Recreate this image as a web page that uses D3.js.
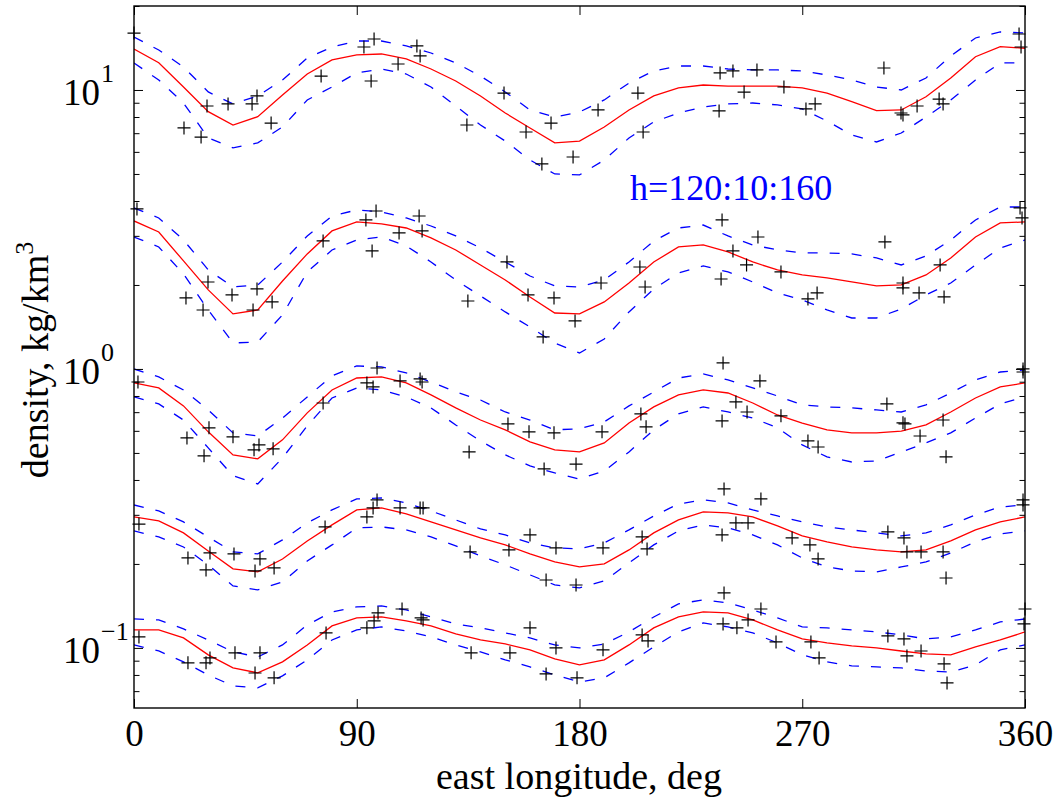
<!DOCTYPE html>
<html><head><meta charset="utf-8">
<script src="https://cdn.jsdelivr.net/npm/d3@7"></script>
<style>
body{margin:0;background:#fff}
svg{display:block}
text{font-family:"Liberation Serif","Times New Roman",serif}
</style>
</head><body>
<svg id="c" width="1063" height="797"></svg>
<script>
// east longitude grid of the fitted curves (deg)
const lon = [0,10,20,30,40,50,60,70,80,90,100,110,120,130,140,150,160,170,180,190,200,210,220,230,240,250,260,270,280,290,300,310,320,330,340,350,360];

// h = 120 km
const mid120 = [14.03,12.52,10.25,8.36,7.49,8.02,9.60,11.41,12.81,13.35,13.46,12.92,11.89,10.77,9.52,8.27,7.31,6.46,6.56,7.37,8.48,9.52,10.17,10.42,10.33,10.33,10.33,10.17,9.75,9.08,8.43,8.48,9.46,11.04,13.16,14.30,14.11];
const up120  = [15.49,13.91,12.09,9.84,8.91,9.52,10.86,13.02,14.26,14.98,14.98,14.38,13.57,12.50,11.22,9.84,8.48,8.00,8.34,9.21,10.59,11.70,12.19,12.19,11.89,11.80,11.80,11.70,11.32,10.86,10.25,10.00,11.04,13.24,15.36,16.14,16.01];
const low120 = [12.50,10.86,8.98,6.73,6.20,6.46,7.37,9.21,10.25,11.51,11.89,11.41,10.25,8.76,7.49,6.56,5.61,5.00,4.96,5.61,6.73,7.68,8.27,8.69,8.91,8.98,8.84,8.55,7.74,6.90,6.51,7.01,8.00,9.21,10.86,12.50,12.50];
const obs120 = [[0,16.0],[20.2,7.31],[27.1,6.78],[29.5,8.76],[38.0,8.91],[47.7,8.91],[49.7,9.52],[55.4,7.61],[75.6,11.22],[92.9,14.26],[97.0,15.23],[95.8,10.77],[106.7,12.39],[114.3,14.38],[115.6,13.24],[149.5,9.75],[134.5,7.49],[158.4,7.07],[168.5,7.61],[164.8,5.43],[177.4,5.75],[187.5,8.48],[203.6,9.75],[205.7,7.07],[236.8,11.51],[242.0,11.70],[251.7,11.80],[246.5,9.83],[262.6,10.25],[236.4,8.41],[271.5,8.55],[275.2,8.91],[303.0,11.99],[309.9,8.27],[310.7,8.14],[316.4,8.76],[325.3,9.28],[326.9,8.91],[357.6,15.87],[358.4,14.26]];

// h = 130 km
const mid130 = [3.393,3.097,2.439,1.920,1.575,1.627,2.067,2.584,3.124,3.365,3.309,3.201,2.948,2.670,2.359,2.084,1.812,1.587,1.575,1.739,2.033,2.418,2.737,2.783,2.627,2.418,2.264,2.173,2.120,2.050,1.984,2.000,2.173,2.499,2.972,3.337,3.365];
const up130  = [3.776,3.477,2.900,2.264,1.967,2.000,2.418,2.997,3.534,3.715,3.653,3.477,3.254,2.997,2.715,2.418,2.154,1.984,1.967,2.084,2.418,2.876,3.201,3.280,2.997,2.783,2.670,2.605,2.605,2.584,2.499,2.359,2.541,2.900,3.420,3.807,3.807];
const low130 = [2.972,2.737,2.190,1.627,1.239,1.250,1.562,2.227,2.670,2.900,2.972,2.760,2.418,2.084,1.827,1.601,1.414,1.239,1.141,1.281,1.601,1.935,2.208,2.340,2.227,2.050,1.873,1.767,1.627,1.523,1.523,1.641,1.842,2.033,2.359,2.715,2.900];
const obs130 = [[1.2,3.745],[76.4,2.876],[29.9,2.050],[21.0,1.797],[27.9,1.627],[39.6,1.842],[49.7,1.935],[48.1,1.627],[55.8,1.739],[93.7,3.421],[97.8,3.683],[96.2,2.648],[107.1,3.073],[115.2,3.534],[116.4,3.124],[150.7,2.418],[134.9,1.752],[159.2,1.842],[169.7,1.797],[165.3,1.302],[178.2,1.486],[188.7,2.033],[204.4,2.320],[206.5,1.967],[237.6,3.421],[252.1,2.972],[242.0,2.648],[247.5,2.359],[303.4,2.852],[325.7,2.359],[358.0,3.776],[358.8,3.477],[237.2,2.101],[261.4,2.227],[272.3,1.782],[276.0,1.873],[310.7,2.033],[310.7,1.951],[317.2,1.873],[327.3,1.812]];

// h = 140 km
const mid140 = [0.891,0.855,0.737,0.595,0.492,0.476,0.557,0.696,0.841,0.928,0.936,0.891,0.807,0.725,0.656,0.605,0.548,0.513,0.504,0.543,0.640,0.731,0.807,0.841,0.820,0.755,0.684,0.640,0.605,0.590,0.590,0.599,0.630,0.701,0.787,0.862,0.891];
const up140  = [1.000,0.936,0.841,0.713,0.590,0.575,0.667,0.794,0.944,1.025,1.017,0.968,0.898,0.827,0.774,0.701,0.656,0.605,0.610,0.646,0.737,0.827,0.928,0.960,0.913,0.855,0.800,0.743,0.731,0.725,0.713,0.701,0.743,0.820,0.913,0.975,0.992];
const low140 = [0.794,0.749,0.656,0.521,0.414,0.387,0.480,0.625,0.787,0.855,0.841,0.794,0.725,0.630,0.552,0.492,0.449,0.424,0.403,0.431,0.504,0.605,0.690,0.731,0.701,0.667,0.615,0.534,0.484,0.464,0.468,0.504,0.543,0.590,0.667,0.749,0.794];
const obs140 = [[1.6,0.898],[21.4,0.566],[30.3,0.615],[28.3,0.488],[40.0,0.571],[48.5,0.513],[50.5,0.534],[56.2,0.517],[76.4,0.755],[98.2,1.008],[94.1,0.891],[96.6,0.862],[107.5,0.906],[115.6,0.921],[116.4,0.898],[151.1,0.635],[159.6,0.595],[169.7,0.590],[135.4,0.504],[165.7,0.438],[178.6,0.456],[189.1,0.595],[204.8,0.690],[206.9,0.620],[238.0,1.051],[252.9,0.906],[243.2,0.762],[247.7,0.701],[237.6,0.651],[261.4,0.679],[272.3,0.552],[276.4,0.525],[304.2,0.749],[310.7,0.641],[311.5,0.635],[317.6,0.575],[326.9,0.656],[328.1,0.484],[359.2,1.000],[359.2,0.975]];

// h = 150 km
const mid150 = [0.2948,0.2852,0.2584,0.2227,0.1920,0.1873,0.2084,0.2418,0.2760,0.3124,0.3177,0.3022,0.2829,0.2648,0.2479,0.2340,0.2173,0.2033,0.1951,0.2000,0.2245,0.2584,0.2876,0.3073,0.3048,0.2948,0.2737,0.2520,0.2399,0.2301,0.2245,0.2208,0.2245,0.2418,0.2648,0.2829,0.2948];
const up150  = [0.3254,0.3097,0.2829,0.2499,0.2208,0.2173,0.2439,0.2805,0.3124,0.3420,0.3449,0.3309,0.3097,0.2876,0.2670,0.2541,0.2379,0.2283,0.2264,0.2379,0.2648,0.2972,0.3281,0.3393,0.3309,0.3124,0.2972,0.2829,0.2715,0.2648,0.2584,0.2520,0.2584,0.2760,0.2997,0.3201,0.3254];
const low150 = [0.2627,0.2499,0.2301,0.1984,0.1668,0.1614,0.1724,0.2050,0.2340,0.2692,0.2715,0.2648,0.2499,0.2320,0.2137,0.1984,0.1827,0.1682,0.1641,0.1739,0.2017,0.2340,0.2627,0.2760,0.2692,0.2541,0.2340,0.2102,0.1951,0.1888,0.1873,0.1951,0.2033,0.2190,0.2399,0.2562,0.2627];
const obs150 = [[2.0,0.278],[77.2,0.2715],[21.8,0.2102],[30.7,0.2191],[29.1,0.1904],[40.4,0.2173],[50.9,0.2084],[48.9,0.1888],[56.6,0.1935],[98.2,0.3392],[94.1,0.2948],[96.6,0.3176],[107.5,0.3176],[115.6,0.3176],[116.8,0.3176],[160.0,0.2541],[170.5,0.2282],[189.5,0.2282],[135.8,0.2209],[151.5,0.2246],[166.5,0.1752],[178.6,0.1681],[205.3,0.2500],[207.3,0.2264],[238.4,0.3715],[253.3,0.3421],[243.2,0.2805],[248.1,0.2805],[237.6,0.2541],[265.9,0.2480],[273.1,0.2340],[276.4,0.2084],[304.6,0.2604],[311.1,0.2480],[312.3,0.2209],[318.0,0.2209],[326.9,0.2209],[328.1,0.1781],[359.2,0.3392],[359.2,0.3255]];

// h = 160 km
const mid160 = [0.1160,0.1160,0.1086,0.0944,0.0848,0.0814,0.0891,0.1025,0.1199,0.1281,0.1291,0.1250,0.1199,0.1122,0.1068,0.1033,0.0984,0.0913,0.0869,0.0906,0.1025,0.1180,0.1291,0.1346,0.1335,0.1260,0.1160,0.1077,0.1042,0.1017,0.1000,0.0975,0.0952,0.0944,0.1008,0.1068,0.1141];
const up160  = [0.1270,0.1260,0.1170,0.1068,0.0968,0.0928,0.1025,0.1209,0.1346,0.1403,0.1414,0.1368,0.1291,0.1219,0.1180,0.1132,0.1086,0.1025,0.1000,0.1033,0.1141,0.1291,0.1438,0.1486,0.1450,0.1368,0.1281,0.1189,0.1180,0.1160,0.1141,0.1113,0.1077,0.1095,0.1160,0.1239,0.1270];
const low160 = [0.1025,0.0975,0.0891,0.0800,0.0731,0.0719,0.0794,0.0906,0.1068,0.1160,0.1189,0.1151,0.1095,0.1025,0.0968,0.0906,0.0855,0.0800,0.0755,0.0781,0.0884,0.1008,0.1141,0.1229,0.1189,0.1132,0.1042,0.0944,0.0891,0.0862,0.0855,0.0848,0.0827,0.0820,0.0869,0.0984,0.1025];
const obs160 = [[2.0,0.1095],[21.8,0.0884],[29.1,0.0884],[30.7,0.0921],[40.8,0.0960],[50.9,0.0960],[48.9,0.0813],[56.6,0.0781],[77.6,0.1132],[94.1,0.1180],[97.0,0.1250],[98.6,0.1335],[108.3,0.1379],[116.0,0.1281],[116.8,0.1260],[160.0,0.1180],[136.2,0.0960],[151.9,0.0960],[170.5,0.1000],[189.5,0.0984],[166.5,0.0807],[179.0,0.0781],[205.3,0.1113],[207.7,0.1059],[238.4,0.1574],[253.3,0.1379],[238.0,0.1219],[243.6,0.1180],[248.1,0.1260],[259.4,0.1051],[273.5,0.1051],[276.8,0.0921],[304.6,0.1104],[311.1,0.1077],[312.3,0.0936],[318.0,0.0975],[327.3,0.0877],[328.5,0.0749],[360,0.1379],[359.6,0.1219]];

// ticks and labels
const xTicks = [0,90,180,270,360];
const yMajor = [0.1,1,10];
const yExp = ["\u22121","0","1"];
const yMinor = [0.07,0.08,0.09,0.2,0.3,0.4,0.5,0.6,0.7,0.8,0.9,2,3,4,5,6,7,8,9,20];
const xLabel = "east longitude, deg";
const yLabel = "density, kg/km";
const yLabelSup = "3";
const note = "h=120:10:160";

const svg = d3.select('#c');
svg.append('rect').attr('width',1063).attr('height',797).attr('fill','#fff');
const M = {l:134, r:1025, t:6, b:708};
const x = d3.scaleLinear().domain([0,360]).range([M.l, M.r]);
const y = d3.scaleLog().domain([0.0609,20]).range([M.b, M.t]);

svg.append('clipPath').attr('id','pc').append('rect')
  .attr('x',M.l).attr('y',M.t).attr('width',M.r-M.l).attr('height',M.b-M.t);

const layers = [
  {mid:mid120, up:up120, low:low120, obs:obs120},
  {mid:mid130, up:up130, low:low130, obs:obs130},
  {mid:mid140, up:up140, low:low140, obs:obs140},
  {mid:mid150, up:up150, low:low150, obs:obs150},
  {mid:mid160, up:up160, low:low160, obs:obs160}
];
const line = d3.line().x((d,i)=>x(lon[i])).y(d=>y(d));
const plot = svg.append('g').attr('clip-path','url(#pc)');
layers.forEach(L=>{
  [L.up, L.low].forEach(s=>{
    plot.append('path').attr('d', line(s)).attr('fill','none')
      .attr('stroke','#0000ff').attr('stroke-width',1.3).attr('stroke-dasharray','10,12');
  });
  plot.append('path').attr('d', line(L.mid)).attr('fill','none')
    .attr('stroke','#ff0000').attr('stroke-width',1.3);
});
const mk = svg.append('g');
layers.forEach(L=>{
  mk.selectAll(null).data(L.obs).enter().append('path')
    .attr('transform', d=>`translate(${x(d[0])},${y(d[1])})`)
    .attr('d','M-6.5,0H6.5M0,-6.5V6.5')
    .attr('stroke','#000').attr('stroke-width',1.2).attr('fill','none');
});

// axes
function style(g){ g.select('.domain').remove(); g.selectAll('line').attr('stroke','#000').attr('stroke-width',1); }
svg.append('g').attr('transform',`translate(0,${M.b})`)
  .call(d3.axisBottom(x).tickValues(xTicks).tickSizeInner(-9).tickSizeOuter(0).tickPadding(12).tickFormat(d3.format('d')))
  .call(style)
  .call(g=>g.selectAll('text').attr('font-size',37).attr('fill','#000'));
svg.append('g').attr('transform',`translate(0,${M.t})`)
  .call(d3.axisTop(x).tickValues(xTicks).tickSizeInner(-9).tickSizeOuter(0).tickFormat(''))
  .call(style);
[[d3.axisLeft, M.l],[d3.axisRight, M.r]].forEach(([ax,pos])=>{
  svg.append('g').attr('transform',`translate(${pos},0)`)
    .call(ax(y).tickValues(yMajor).tickSizeInner(-9).tickSizeOuter(0).tickFormat('')).call(style);
  svg.append('g').attr('transform',`translate(${pos},0)`)
    .call(ax(y).tickValues(yMinor).tickSizeInner(-5.5).tickSizeOuter(0).tickFormat('')).call(style);
});
svg.append('rect').attr('x',M.l).attr('y',M.t).attr('width',M.r-M.l).attr('height',M.b-M.t)
  .attr('fill','none').attr('stroke','#000').attr('stroke-width',1.4);

// y tick labels 10^k
yMajor.forEach((v,i)=>{
  svg.append('text').attr('x',100).attr('y',y(v)+15).attr('text-anchor','end')
    .attr('font-size',37).text('10');
  svg.append('text').attr('x',101).attr('y',y(v)-8)
    .attr('font-size',26).text(yExp[i]);
});

// axis titles
svg.append('text').attr('x',579).attr('y',789).attr('text-anchor','middle')
  .attr('font-size',38).text(xLabel);
const yt = svg.append('text').attr('transform','translate(48,360) rotate(-90)')
  .attr('text-anchor','middle').attr('font-size',38);
yt.append('tspan').text(yLabel);
yt.append('tspan').attr('font-size',26).attr('dy',-15).text(yLabelSup);

svg.append('text').attr('x',630).attr('y',200).attr('font-size',36)
  .attr('fill','#0000ff').text(note);
</script>
</body></html>
